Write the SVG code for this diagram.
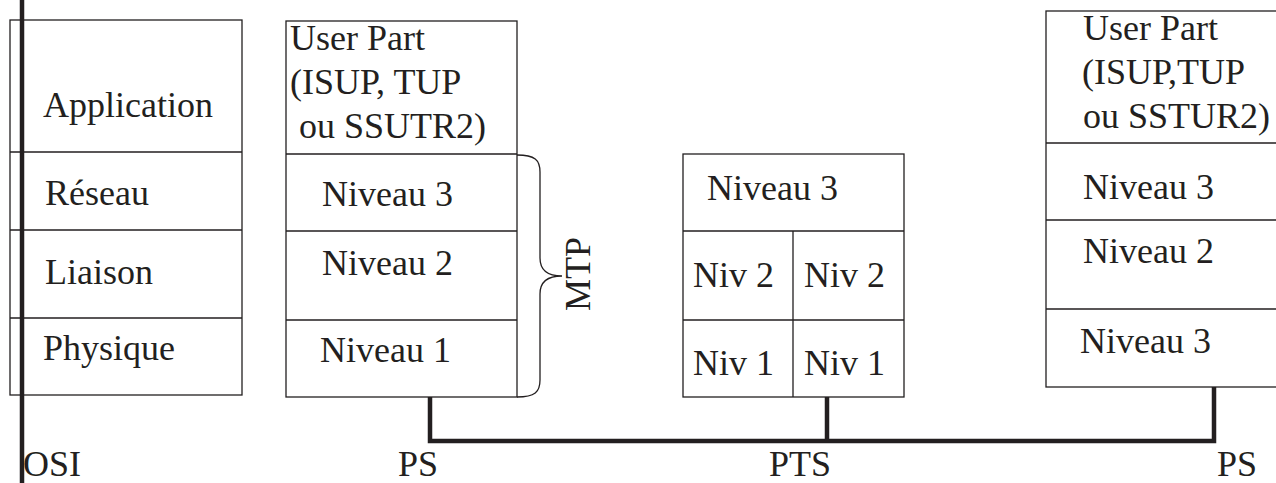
<svg xmlns="http://www.w3.org/2000/svg" width="1276" height="483" viewBox="0 0 1276 483">
<style>
.box{fill:#fff;stroke:#231f20;stroke-width:1.3}
.div{stroke:#231f20;stroke-width:1.3;fill:none}
.t{font-family:"Liberation Serif","Times New Roman",serif;font-size:36px;fill:#231f20}
.bus{stroke:#231f20;stroke-width:4.5;fill:none}
</style>
<rect width="1276" height="483" fill="#fff"/>
<g id="osi">
<rect class="box" x="10" y="20" width="232" height="375"/>
<path class="div" d="M10,152H242M10,230H242M10,318H242"/>
<text class="t" x="43" y="117">Application</text>
<text class="t" x="45" y="205">Réseau</text>
<text class="t" x="45" y="284">Liaison</text>
<text class="t" x="43" y="360">Physique</text>
</g>
<g id="ps1">
<rect class="box" x="286" y="21" width="231" height="376"/>
<path class="div" d="M286,154H517M286,231H517M286,320H517"/>
<text class="t" x="290" y="50">User Part</text>
<text class="t" x="290" y="94">(ISUP, TUP</text>
<text class="t" x="290" y="138" xml:space="preserve"> ou SSUTR2)</text>
<text class="t" x="322" y="206">Niveau 3</text>
<text class="t" x="322" y="275">Niveau 2</text>
<text class="t" x="320" y="362">Niveau 1</text>
</g>
<g id="mtp">
<path class="div" d="M517,155C535,155 540,160 540,172V258C540,270 548,276 562,276C548,276 540,282 540,294V380C540,392 535,397 517,397"/>
<text class="t" transform="translate(590,274) rotate(-90)" text-anchor="middle">MTP</text>
</g>
<g id="pts">
<rect class="box" x="683" y="154" width="221" height="243"/>
<path class="div" d="M683,231H904M683,320H904M793,231V397"/>
<text class="t" x="707" y="200">Niveau 3</text>
<text class="t" x="693" y="287">Niv 2</text>
<text class="t" x="804" y="287">Niv 2</text>
<text class="t" x="693" y="375">Niv 1</text>
<text class="t" x="804" y="375">Niv 1</text>
</g>
<g id="ps2">
<rect class="box" x="1046" y="11" width="250" height="376"/>
<path class="div" d="M1046,143H1296M1046,220H1296M1046,309H1296"/>
<text class="t" x="1083" y="40">User Part</text>
<text class="t" x="1082" y="84">(ISUP,TUP</text>
<text class="t" x="1083" y="128">ou SSTUR2)</text>
<text class="t" x="1083" y="199">Niveau 3</text>
<text class="t" x="1083" y="263">Niveau 2</text>
<text class="t" x="1080" y="353">Niveau 3</text>
</g>
<g id="connectors">
<path class="bus" d="M22,0V483"/>
<path class="bus" d="M430,397V441H1214V387"/>
<path class="bus" d="M827,397V441"/>
</g>
<g id="labels">
<text class="t" x="23" y="476">OSI</text>
<text class="t" x="398" y="476">PS</text>
<text class="t" x="769" y="476">PTS</text>
<text class="t" x="1217" y="476">PS</text>
</g>
</svg>
